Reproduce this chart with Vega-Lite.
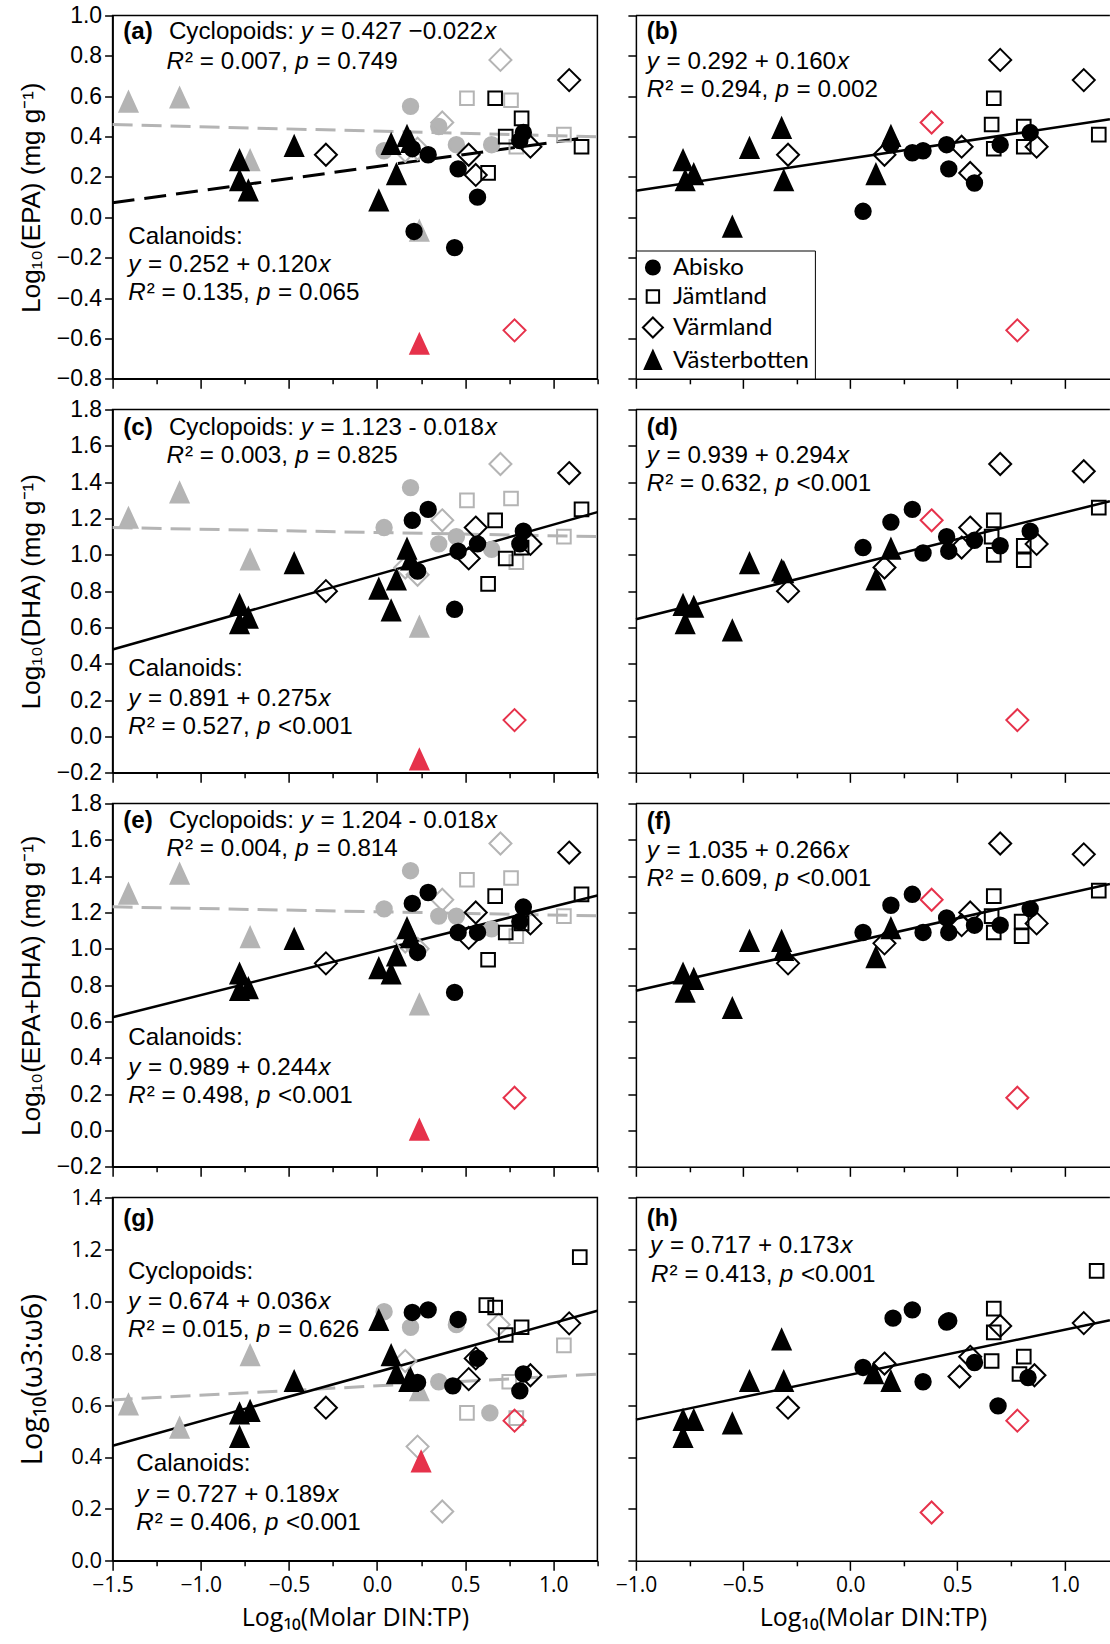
{
"$schema": "https://vega.github.io/schema/vega-lite/v6.json",
"background": "white",
"padding": {"left": 16.6, "top": 3.5, "right": 0, "bottom": 0},
"columns": 2,
"spacing": {"row": 30, "column": 38.3},
"bounds": "flush",
"resolve": {"scale": {"shape": "independent", "fill": "independent", "stroke": "independent"}},
"config": {
  "view": {"stroke": "black", "strokeWidth": 1.5},
  "axis": {"domainColor": "black", "domainWidth": 1.5, "tickColor": "black", "tickWidth": 1.5, "grid": false, "labelColor": "black", "titleColor": "black", "titleFontWeight": "normal", "labelOverlap": false, "labelFlush": false}
},
"concat": [
{
 "width": 484.8, "height": 363.3,
 "encoding": {
  "x": {"field": "x", "type": "quantitative", "scale": {"domain": [-1.5, 1.25], "nice": false, "zero": false},
        "axis": {"values": [-1.5,-1.25,-1,-0.75,-0.5,-0.25,0,0.25,0.5,0.75,1,1.25], "labels": false, "title": null, "tickSize": {"condition": {"test": "abs(datum.value*2-round(datum.value*2))>0.01", "value": 5}, "value": 9.5}}},
  "y": {"field": "y", "type": "quantitative", "scale": {"domain": [-0.8, 1.0], "nice": false, "zero": false},
        "axis": {"values": [-0.8,-0.6,-0.4,-0.2,0,0.2,0.4,0.6,0.8,1.0], "format": ".1f", "labelFont": "Liberation Sans", "labelFontSize": 23, "labelPadding": 3, "tickSize": 8, "title": "Log₁₀(EPA) (mg g⁻¹)", "titleFont": "Liberation Sans", "titleFontSize": 26, "titlePadding": 12}}
 },
 "layer": [
  {"data": {"values": [{"x": -1.5, "y": 0.46}, {"x": 1.25, "y": 0.3995}]}, "mark": {"type": "line", "color": "#b4b4b4", "strokeWidth": 3, "strokeDash": [20, 9]}, "encoding": {}},
  {"data": {"values": [{"x": -1.5, "y": 0.072}, {"x": 1.16, "y": 0.3912}]}, "mark": {"type": "line", "color": "black", "strokeWidth": 3, "strokeDash": [22, 10]}, "encoding": {}},
  {"data": {"values": [
    {"x": -1.41, "y": 0.57, "cat": "Västerbotten (cyclopoids)"},
    {"x": -1.12, "y": 0.59, "cat": "Västerbotten (cyclopoids)"},
    {"x": -0.72, "y": 0.28, "cat": "Västerbotten (cyclopoids)"},
    {"x": 0.24, "y": -0.07, "cat": "Västerbotten (cyclopoids)"},
    {"x": 0.04, "y": 0.33, "cat": "Abisko (cyclopoids)"},
    {"x": 0.19, "y": 0.55, "cat": "Abisko (cyclopoids)"},
    {"x": 0.35, "y": 0.45, "cat": "Abisko (cyclopoids)"},
    {"x": 0.45, "y": 0.36, "cat": "Abisko (cyclopoids)"},
    {"x": 0.65, "y": 0.36, "cat": "Abisko (cyclopoids)"},
    {"x": 0.16, "y": 0.33, "cat": "Värmland (cyclopoids)"},
    {"x": 0.23, "y": 0.34, "cat": "Värmland (cyclopoids)"},
    {"x": 0.37, "y": 0.47, "cat": "Värmland (cyclopoids)"},
    {"x": 0.70, "y": 0.78, "cat": "Värmland (cyclopoids)"},
    {"x": 0.51, "y": 0.59, "cat": "Jämtland (cyclopoids)"},
    {"x": 0.76, "y": 0.58, "cat": "Jämtland (cyclopoids)"},
    {"x": 0.79, "y": 0.35, "cat": "Jämtland (cyclopoids)"},
    {"x": 1.06, "y": 0.41, "cat": "Jämtland (cyclopoids)"},
    {"x": -0.78, "y": 0.28, "cat": "Västerbotten"},
    {"x": -0.78, "y": 0.18, "cat": "Västerbotten"},
    {"x": -0.73, "y": 0.13, "cat": "Västerbotten"},
    {"x": -0.47, "y": 0.35, "cat": "Västerbotten"},
    {"x": 0.01, "y": 0.08, "cat": "Västerbotten"},
    {"x": 0.08, "y": 0.36, "cat": "Västerbotten"},
    {"x": 0.11, "y": 0.21, "cat": "Västerbotten"},
    {"x": 0.17, "y": 0.40, "cat": "Västerbotten"},
    {"x": 0.19, "y": 0.37, "cat": "Västerbotten"},
    {"x": 0.20, "y": 0.34, "cat": "Abisko"},
    {"x": 0.21, "y": -0.07, "cat": "Abisko"},
    {"x": 0.29, "y": 0.31, "cat": "Abisko"},
    {"x": 0.44, "y": -0.15, "cat": "Abisko"},
    {"x": 0.46, "y": 0.24, "cat": "Abisko"},
    {"x": 0.57, "y": 0.10, "cat": "Abisko"},
    {"x": 0.81, "y": 0.38, "cat": "Abisko"},
    {"x": 0.83, "y": 0.42, "cat": "Abisko"},
    {"x": -0.29, "y": 0.31, "cat": "Värmland"},
    {"x": 0.52, "y": 0.31, "cat": "Värmland"},
    {"x": 0.56, "y": 0.21, "cat": "Värmland"},
    {"x": 0.87, "y": 0.35, "cat": "Värmland"},
    {"x": 1.09, "y": 0.68, "cat": "Värmland"},
    {"x": 0.63, "y": 0.22, "cat": "Jämtland"},
    {"x": 0.67, "y": 0.59, "cat": "Jämtland"},
    {"x": 0.73, "y": 0.40, "cat": "Jämtland"},
    {"x": 0.82, "y": 0.49, "cat": "Jämtland"},
    {"x": 1.16, "y": 0.35, "cat": "Jämtland"},
    {"x": 0.24, "y": -0.63, "cat": "Västerbotten (excluded)"},
    {"x": 0.78, "y": -0.56, "cat": "Värmland (excluded)"}
   ]},
   "mark": {"type": "point", "filled": true, "opacity": 1, "size": 484, "strokeWidth": 2},
   "encoding": {
    "shape": {"field": "cat", "type": "nominal", "legend": null, "scale": {"domain": ["Abisko","Jämtland","Värmland","Västerbotten","Abisko (cyclopoids)","Jämtland (cyclopoids)","Värmland (cyclopoids)","Västerbotten (cyclopoids)","Värmland (excluded)","Västerbotten (excluded)"], "range": ["M0.7,0A0.7,0.7,0,1,1,-0.7,0A0.7,0.7,0,1,1,0.7,0Z","M-0.62,-0.62H0.62V0.62H-0.62Z","M0,-1L1,0L0,1L-1,0Z","M0,-0.95L0.82,0.85L-0.82,0.85Z","M0.7,0A0.7,0.7,0,1,1,-0.7,0A0.7,0.7,0,1,1,0.7,0Z","M-0.62,-0.62H0.62V0.62H-0.62Z","M0,-1L1,0L0,1L-1,0Z","M0,-0.95L0.82,0.85L-0.82,0.85Z","M0,-1L1,0L0,1L-1,0Z","M0,-0.95L0.82,0.85L-0.82,0.85Z"]}},
    "fill": {"field": "cat", "type": "nominal", "legend": null, "scale": {"domain": ["Abisko","Jämtland","Värmland","Västerbotten","Abisko (cyclopoids)","Jämtland (cyclopoids)","Värmland (cyclopoids)","Västerbotten (cyclopoids)","Värmland (excluded)","Västerbotten (excluded)"], "range": ["black","transparent","transparent","black","#b4b4b4","transparent","transparent","#b4b4b4","transparent","#e6324b"]}},
    "stroke": {"field": "cat", "type": "nominal", "legend": null, "scale": {"domain": ["Abisko","Jämtland","Värmland","Västerbotten","Abisko (cyclopoids)","Jämtland (cyclopoids)","Värmland (cyclopoids)","Västerbotten (cyclopoids)","Värmland (excluded)","Västerbotten (excluded)"], "range": ["black","black","black","black","#b4b4b4","#b4b4b4","#b4b4b4","#b4b4b4","#e6324b","#e6324b"]}}
   }},
  {"data": {"values": [
    {"x": -1.1807, "y": 0.885, "t": "Cyclopoids:"}, {"x": -0.3208, "y": 0.885, "t": "= 0.427 −0.022"},
    {"x": -1.0888, "y": 0.736, "t": "² = 0.007,"}, {"x": -0.3440, "y": 0.736, "t": "= 0.749"},
    {"x": -1.4109, "y": -0.131, "t": "Calanoids:"}, {"x": -1.2986, "y": -0.273, "t": "= 0.252 + 0.120"},
    {"x": -1.3060, "y": -0.412, "t": "² = 0.135,"}, {"x": -0.5613, "y": -0.412, "t": "= 0.065"}]},
   "mark": {"type": "text", "align": "left", "baseline": "alphabetic", "font": "Liberation Sans", "fontSize": 24.2, "color": "black"}, "encoding": {"text": {"field": "t"}}},
  {"data": {"values": [
    {"x": -0.4331, "y": 0.885, "t": "y"}, {"x": 0.6083, "y": 0.885, "t": "x"},
    {"x": -1.1937, "y": 0.736, "t": "R"}, {"x": -0.4643, "y": 0.736, "t": "p"},
    {"x": -1.4109, "y": -0.273, "t": "y"}, {"x": -0.3315, "y": -0.273, "t": "x"},
    {"x": -1.4109, "y": -0.412, "t": "R"}, {"x": -0.6815, "y": -0.412, "t": "p"}]},
   "mark": {"type": "text", "align": "left", "baseline": "alphabetic", "font": "Liberation Sans", "fontSize": 24.2, "fontStyle": "italic", "color": "black"}, "encoding": {"text": {"field": "t"}}},
  {"data": {"values": [{"x": -1.4393, "y": 0.885, "t": "(a)"}]},
   "mark": {"type": "text", "align": "left", "baseline": "alphabetic", "font": "Liberation Sans", "fontSize": 24.2, "fontWeight": "bold", "color": "black"}, "encoding": {"text": {"field": "t"}}}
 ]
},
{
 "width": 474, "height": 363.3,
 "view": {"stroke": null},
 "encoding": {
  "x": {"field": "x", "type": "quantitative", "scale": {"domain": [-1, 1.2119], "nice": false, "zero": false},
        "axis": {"values": [-1,-0.75,-0.5,-0.25,0,0.25,0.5,0.75,1], "labels": false, "title": null, "tickSize": {"condition": {"test": "abs(datum.value*2-round(datum.value*2))>0.01", "value": 5}, "value": 9.5}}},
  "y": {"field": "y", "type": "quantitative", "scale": {"domain": [-0.8, 1.0], "nice": false, "zero": false},
        "axis": {"values": [-0.8,-0.6,-0.4,-0.2,0,0.2,0.4,0.6,0.8,1.0], "labels": false, "tickSize": 8, "title": null}}
 },
 "layer": [
  {"data": {"values": [{"x": -1, "y": 1.0}, {"x": 1.2119, "y": 1.0}]}, "mark": {"type": "line", "color": "black", "strokeWidth": 1.5}, "encoding": {}},
  {"data": {"values": [{"x": -1, "y": 0.132}, {"x": 1.2119, "y": 0.4859}]}, "mark": {"type": "line", "color": "black", "strokeWidth": 2.5}, "encoding": {}},
  {"data": {"values": [
    {"x": -0.78, "y": 0.28, "cat": "Västerbotten"},
    {"x": -0.77, "y": 0.18, "cat": "Västerbotten"},
    {"x": -0.73, "y": 0.21, "cat": "Västerbotten"},
    {"x": -0.55, "y": -0.05, "cat": "Västerbotten"},
    {"x": -0.47, "y": 0.34, "cat": "Västerbotten"},
    {"x": -0.32, "y": 0.44, "cat": "Västerbotten"},
    {"x": -0.31, "y": 0.18, "cat": "Västerbotten"},
    {"x": 0.12, "y": 0.21, "cat": "Västerbotten"},
    {"x": 0.19, "y": 0.40, "cat": "Västerbotten"},
    {"x": 0.06, "y": 0.03, "cat": "Abisko"},
    {"x": 0.19, "y": 0.36, "cat": "Abisko"},
    {"x": 0.29, "y": 0.32, "cat": "Abisko"},
    {"x": 0.34, "y": 0.33, "cat": "Abisko"},
    {"x": 0.45, "y": 0.36, "cat": "Abisko"},
    {"x": 0.46, "y": 0.24, "cat": "Abisko"},
    {"x": 0.58, "y": 0.17, "cat": "Abisko"},
    {"x": 0.70, "y": 0.36, "cat": "Abisko"},
    {"x": 0.84, "y": 0.42, "cat": "Abisko"},
    {"x": -0.29, "y": 0.31, "cat": "Värmland"},
    {"x": 0.16, "y": 0.31, "cat": "Värmland"},
    {"x": 0.52, "y": 0.35, "cat": "Värmland"},
    {"x": 0.56, "y": 0.22, "cat": "Värmland"},
    {"x": 0.70, "y": 0.78, "cat": "Värmland"},
    {"x": 0.87, "y": 0.35, "cat": "Värmland"},
    {"x": 1.09, "y": 0.68, "cat": "Värmland"},
    {"x": 0.67, "y": 0.59, "cat": "Jämtland"},
    {"x": 0.66, "y": 0.46, "cat": "Jämtland"},
    {"x": 0.67, "y": 0.34, "cat": "Jämtland"},
    {"x": 0.81, "y": 0.45, "cat": "Jämtland"},
    {"x": 0.81, "y": 0.35, "cat": "Jämtland"},
    {"x": 1.16, "y": 0.41, "cat": "Jämtland"},
    {"x": 0.38, "y": 0.47, "cat": "Värmland (excluded)"},
    {"x": 0.78, "y": -0.56, "cat": "Värmland (excluded)"}
   ]},
   "mark": {"type": "point", "filled": true, "opacity": 1, "size": 484, "strokeWidth": 2},
   "encoding": {
    "shape": {"field": "cat", "type": "nominal", "legend": {"orient": "bottom-left", "offset": 0, "title": null, "values": ["Abisko","Jämtland","Värmland","Västerbotten"], "padding": 5, "strokeColor": "black", "fillColor": "white", "labelFont": "Lato", "labelFontSize": 24, "labelColor": "black", "symbolSize": 400, "symbolStrokeWidth": 2, "rowPadding": 5, "labelOffset": 8}, "scale": {"domain": ["Abisko","Jämtland","Värmland","Västerbotten","Abisko (cyclopoids)","Jämtland (cyclopoids)","Värmland (cyclopoids)","Västerbotten (cyclopoids)","Värmland (excluded)","Västerbotten (excluded)"], "range": ["M0.7,0A0.7,0.7,0,1,1,-0.7,0A0.7,0.7,0,1,1,0.7,0Z","M-0.62,-0.62H0.62V0.62H-0.62Z","M0,-1L1,0L0,1L-1,0Z","M0,-0.95L0.82,0.85L-0.82,0.85Z","M0.7,0A0.7,0.7,0,1,1,-0.7,0A0.7,0.7,0,1,1,0.7,0Z","M-0.62,-0.62H0.62V0.62H-0.62Z","M0,-1L1,0L0,1L-1,0Z","M0,-0.95L0.82,0.85L-0.82,0.85Z","M0,-1L1,0L0,1L-1,0Z","M0,-0.95L0.82,0.85L-0.82,0.85Z"]}},
    "fill": {"field": "cat", "type": "nominal", "legend": {"orient": "bottom-left", "offset": 0, "title": null, "values": ["Abisko","Jämtland","Värmland","Västerbotten"], "padding": 5, "strokeColor": "black", "fillColor": "white", "labelFont": "Lato", "labelFontSize": 24, "labelColor": "black", "symbolSize": 400, "symbolStrokeWidth": 2, "rowPadding": 5, "labelOffset": 8}, "scale": {"domain": ["Abisko","Jämtland","Värmland","Västerbotten","Abisko (cyclopoids)","Jämtland (cyclopoids)","Värmland (cyclopoids)","Västerbotten (cyclopoids)","Värmland (excluded)","Västerbotten (excluded)"], "range": ["black","transparent","transparent","black","#b4b4b4","transparent","transparent","#b4b4b4","transparent","#e6324b"]}},
    "stroke": {"field": "cat", "type": "nominal", "legend": {"orient": "bottom-left", "offset": 0, "title": null, "values": ["Abisko","Jämtland","Värmland","Västerbotten"], "padding": 5, "strokeColor": "black", "fillColor": "white", "labelFont": "Lato", "labelFontSize": 24, "labelColor": "black", "symbolSize": 400, "symbolStrokeWidth": 2, "rowPadding": 5, "labelOffset": 8}, "scale": {"domain": ["Abisko","Jämtland","Värmland","Västerbotten","Abisko (cyclopoids)","Jämtland (cyclopoids)","Värmland (cyclopoids)","Västerbotten (cyclopoids)","Värmland (excluded)","Västerbotten (excluded)"], "range": ["black","black","black","black","#b4b4b4","#b4b4b4","#b4b4b4","#b4b4b4","#e6324b","#e6324b"]}}
   }},
  {"data": {"values": [
    {"x": -0.8567, "y": 0.736, "t": "= 0.292 + 0.160"}, {"x": -0.8628, "y": 0.595, "t": "² = 0.294,"}, {"x": -0.2501, "y": 0.595, "t": "= 0.002"}]},
   "mark": {"type": "text", "align": "left", "baseline": "alphabetic", "font": "Liberation Sans", "fontSize": 24.2, "color": "black"}, "encoding": {"text": {"field": "t"}}},
  {"data": {"values": [
    {"x": -0.9491, "y": 0.736, "t": "y"}, {"x": -0.0611, "y": 0.736, "t": "x"},
    {"x": -0.9491, "y": 0.595, "t": "R"}, {"x": -0.3490, "y": 0.595, "t": "p"}]},
   "mark": {"type": "text", "align": "left", "baseline": "alphabetic", "font": "Liberation Sans", "fontSize": 24.2, "fontStyle": "italic", "color": "black"}, "encoding": {"text": {"field": "t"}}},
  {"data": {"values": [{"x": -0.9491, "y": 0.885, "t": "(b)"}]},
   "mark": {"type": "text", "align": "left", "baseline": "alphabetic", "font": "Liberation Sans", "fontSize": 24.2, "fontWeight": "bold", "color": "black"}, "encoding": {"text": {"field": "t"}}}
 ]
},
{
 "width": 484.8, "height": 363.3,
 "encoding": {
  "x": {"field": "x", "type": "quantitative", "scale": {"domain": [-1.5, 1.25], "nice": false, "zero": false},
        "axis": {"values": [-1.5,-1.25,-1,-0.75,-0.5,-0.25,0,0.25,0.5,0.75,1,1.25], "labels": false, "title": null, "tickSize": {"condition": {"test": "abs(datum.value*2-round(datum.value*2))>0.01", "value": 5}, "value": 9.5}}},
  "y": {"field": "y", "type": "quantitative", "scale": {"domain": [-0.2, 1.8], "nice": false, "zero": false},
        "axis": {"values": [-0.2,0,0.2,0.4,0.6,0.8,1.0,1.2,1.4,1.6,1.8], "format": ".1f", "labelFont": "Liberation Sans", "labelFontSize": 23, "labelPadding": 3, "tickSize": 8, "title": "Log₁₀(DHA) (mg g⁻¹)", "titleFont": "Liberation Sans", "titleFontSize": 26, "titlePadding": 12}}
 },
 "layer": [
  {"data": {"values": [{"x": -1.5, "y": 1.15}, {"x": 1.25, "y": 1.1005}]}, "mark": {"type": "line", "color": "#b4b4b4", "strokeWidth": 3, "strokeDash": [20, 9]}, "encoding": {}},
  {"data": {"values": [{"x": -1.5, "y": 0.4785}, {"x": 1.25, "y": 1.2348}]}, "mark": {"type": "line", "color": "black", "strokeWidth": 2.5}, "encoding": {}},
  {"data": {"values": [
    {"x": -1.41, "y": 1.20, "cat": "Västerbotten (cyclopoids)"},
    {"x": -1.12, "y": 1.34, "cat": "Västerbotten (cyclopoids)"},
    {"x": -0.72, "y": 0.97, "cat": "Västerbotten (cyclopoids)"},
    {"x": 0.24, "y": 0.60, "cat": "Västerbotten (cyclopoids)"},
    {"x": 0.04, "y": 1.15, "cat": "Abisko (cyclopoids)"},
    {"x": 0.19, "y": 1.37, "cat": "Abisko (cyclopoids)"},
    {"x": 0.35, "y": 1.06, "cat": "Abisko (cyclopoids)"},
    {"x": 0.45, "y": 1.10, "cat": "Abisko (cyclopoids)"},
    {"x": 0.65, "y": 1.03, "cat": "Abisko (cyclopoids)"},
    {"x": 0.16, "y": 0.93, "cat": "Värmland (cyclopoids)"},
    {"x": 0.23, "y": 0.89, "cat": "Värmland (cyclopoids)"},
    {"x": 0.37, "y": 1.19, "cat": "Värmland (cyclopoids)"},
    {"x": 0.70, "y": 1.50, "cat": "Värmland (cyclopoids)"},
    {"x": 0.51, "y": 1.30, "cat": "Jämtland (cyclopoids)"},
    {"x": 0.76, "y": 1.31, "cat": "Jämtland (cyclopoids)"},
    {"x": 0.79, "y": 0.96, "cat": "Jämtland (cyclopoids)"},
    {"x": 1.06, "y": 1.10, "cat": "Jämtland (cyclopoids)"},
    {"x": -0.78, "y": 0.72, "cat": "Västerbotten"},
    {"x": -0.78, "y": 0.62, "cat": "Västerbotten"},
    {"x": -0.73, "y": 0.65, "cat": "Västerbotten"},
    {"x": -0.47, "y": 0.95, "cat": "Västerbotten"},
    {"x": 0.01, "y": 0.81, "cat": "Västerbotten"},
    {"x": 0.08, "y": 0.69, "cat": "Västerbotten"},
    {"x": 0.11, "y": 0.86, "cat": "Västerbotten"},
    {"x": 0.17, "y": 1.03, "cat": "Västerbotten"},
    {"x": 0.19, "y": 0.97, "cat": "Västerbotten"},
    {"x": 0.20, "y": 1.19, "cat": "Abisko"},
    {"x": 0.23, "y": 0.91, "cat": "Abisko"},
    {"x": 0.29, "y": 1.25, "cat": "Abisko"},
    {"x": 0.44, "y": 0.70, "cat": "Abisko"},
    {"x": 0.46, "y": 1.02, "cat": "Abisko"},
    {"x": 0.57, "y": 1.06, "cat": "Abisko"},
    {"x": 0.81, "y": 1.06, "cat": "Abisko"},
    {"x": 0.83, "y": 1.13, "cat": "Abisko"},
    {"x": -0.29, "y": 0.80, "cat": "Värmland"},
    {"x": 0.52, "y": 0.98, "cat": "Värmland"},
    {"x": 0.56, "y": 1.15, "cat": "Värmland"},
    {"x": 0.87, "y": 1.06, "cat": "Värmland"},
    {"x": 1.09, "y": 1.45, "cat": "Värmland"},
    {"x": 0.63, "y": 0.84, "cat": "Jämtland"},
    {"x": 0.67, "y": 1.19, "cat": "Jämtland"},
    {"x": 0.73, "y": 0.98, "cat": "Jämtland"},
    {"x": 0.82, "y": 1.04, "cat": "Jämtland"},
    {"x": 1.16, "y": 1.25, "cat": "Jämtland"},
    {"x": 0.24, "y": -0.13, "cat": "Västerbotten (excluded)"},
    {"x": 0.78, "y": 0.09, "cat": "Värmland (excluded)"}
   ]},
   "mark": {"type": "point", "filled": true, "opacity": 1, "size": 484, "strokeWidth": 2},
   "encoding": {
    "shape": {"field": "cat", "type": "nominal", "legend": null, "scale": {"domain": ["Abisko","Jämtland","Värmland","Västerbotten","Abisko (cyclopoids)","Jämtland (cyclopoids)","Värmland (cyclopoids)","Västerbotten (cyclopoids)","Värmland (excluded)","Västerbotten (excluded)"], "range": ["M0.7,0A0.7,0.7,0,1,1,-0.7,0A0.7,0.7,0,1,1,0.7,0Z","M-0.62,-0.62H0.62V0.62H-0.62Z","M0,-1L1,0L0,1L-1,0Z","M0,-0.95L0.82,0.85L-0.82,0.85Z","M0.7,0A0.7,0.7,0,1,1,-0.7,0A0.7,0.7,0,1,1,0.7,0Z","M-0.62,-0.62H0.62V0.62H-0.62Z","M0,-1L1,0L0,1L-1,0Z","M0,-0.95L0.82,0.85L-0.82,0.85Z","M0,-1L1,0L0,1L-1,0Z","M0,-0.95L0.82,0.85L-0.82,0.85Z"]}},
    "fill": {"field": "cat", "type": "nominal", "legend": null, "scale": {"domain": ["Abisko","Jämtland","Värmland","Västerbotten","Abisko (cyclopoids)","Jämtland (cyclopoids)","Värmland (cyclopoids)","Västerbotten (cyclopoids)","Värmland (excluded)","Västerbotten (excluded)"], "range": ["black","transparent","transparent","black","#b4b4b4","transparent","transparent","#b4b4b4","transparent","#e6324b"]}},
    "stroke": {"field": "cat", "type": "nominal", "legend": null, "scale": {"domain": ["Abisko","Jämtland","Värmland","Västerbotten","Abisko (cyclopoids)","Jämtland (cyclopoids)","Värmland (cyclopoids)","Västerbotten (cyclopoids)","Värmland (excluded)","Västerbotten (excluded)"], "range": ["black","black","black","black","#b4b4b4","#b4b4b4","#b4b4b4","#b4b4b4","#e6324b","#e6324b"]}}
   }},
  {"data": {"values": [
    {"x": -1.1807, "y": 1.662, "t": "Cyclopoids:"}, {"x": -0.3208, "y": 1.662, "t": "= 1.123 - 0.018"},
    {"x": -1.0888, "y": 1.506, "t": "² = 0.003,"}, {"x": -0.3440, "y": 1.506, "t": "= 0.825"},
    {"x": -1.4109, "y": 0.332, "t": "Calanoids:"}, {"x": -1.2986, "y": 0.167, "t": "= 0.891 + 0.275"},
    {"x": -1.3060, "y": 0.011, "t": "² = 0.527,"}, {"x": -0.5613, "y": 0.011, "t": "<0.001"}]},
   "mark": {"type": "text", "align": "left", "baseline": "alphabetic", "font": "Liberation Sans", "fontSize": 24.2, "color": "black"}, "encoding": {"text": {"field": "t"}}},
  {"data": {"values": [
    {"x": -0.4331, "y": 1.662, "t": "y"}, {"x": 0.6123, "y": 1.662, "t": "x"},
    {"x": -1.1937, "y": 1.506, "t": "R"}, {"x": -0.4643, "y": 1.506, "t": "p"},
    {"x": -1.4109, "y": 0.167, "t": "y"}, {"x": -0.3315, "y": 0.167, "t": "x"},
    {"x": -1.4109, "y": 0.011, "t": "R"}, {"x": -0.6815, "y": 0.011, "t": "p"}]},
   "mark": {"type": "text", "align": "left", "baseline": "alphabetic", "font": "Liberation Sans", "fontSize": 24.2, "fontStyle": "italic", "color": "black"}, "encoding": {"text": {"field": "t"}}},
  {"data": {"values": [{"x": -1.4393, "y": 1.662, "t": "(c)"}]},
   "mark": {"type": "text", "align": "left", "baseline": "alphabetic", "font": "Liberation Sans", "fontSize": 24.2, "fontWeight": "bold", "color": "black"}, "encoding": {"text": {"field": "t"}}}
 ]
},
{
 "width": 474, "height": 363.3,
 "view": {"stroke": null},
 "encoding": {
  "x": {"field": "x", "type": "quantitative", "scale": {"domain": [-1, 1.2119], "nice": false, "zero": false},
        "axis": {"values": [-1,-0.75,-0.5,-0.25,0,0.25,0.5,0.75,1], "labels": false, "title": null, "tickSize": {"condition": {"test": "abs(datum.value*2-round(datum.value*2))>0.01", "value": 5}, "value": 9.5}}},
  "y": {"field": "y", "type": "quantitative", "scale": {"domain": [-0.2, 1.8], "nice": false, "zero": false},
        "axis": {"values": [-0.2,0,0.2,0.4,0.6,0.8,1.0,1.2,1.4,1.6,1.8], "labels": false, "tickSize": 8, "title": null}}
 },
 "layer": [
  {"data": {"values": [{"x": -1, "y": 1.8}, {"x": 1.2119, "y": 1.8}]}, "mark": {"type": "line", "color": "black", "strokeWidth": 1.5}, "encoding": {}},
  {"data": {"values": [{"x": -1, "y": 0.645}, {"x": 1.2119, "y": 1.2953}]}, "mark": {"type": "line", "color": "black", "strokeWidth": 2.5}, "encoding": {}},
  {"data": {"values": [
    {"x": -0.78, "y": 0.72, "cat": "Västerbotten"},
    {"x": -0.77, "y": 0.62, "cat": "Västerbotten"},
    {"x": -0.73, "y": 0.71, "cat": "Västerbotten"},
    {"x": -0.55, "y": 0.58, "cat": "Västerbotten"},
    {"x": -0.47, "y": 0.95, "cat": "Västerbotten"},
    {"x": -0.32, "y": 0.91, "cat": "Västerbotten"},
    {"x": -0.31, "y": 0.90, "cat": "Västerbotten"},
    {"x": 0.12, "y": 0.86, "cat": "Västerbotten"},
    {"x": 0.19, "y": 1.03, "cat": "Västerbotten"},
    {"x": 0.06, "y": 1.04, "cat": "Abisko"},
    {"x": 0.19, "y": 1.18, "cat": "Abisko"},
    {"x": 0.29, "y": 1.25, "cat": "Abisko"},
    {"x": 0.34, "y": 1.01, "cat": "Abisko"},
    {"x": 0.45, "y": 1.10, "cat": "Abisko"},
    {"x": 0.46, "y": 1.02, "cat": "Abisko"},
    {"x": 0.58, "y": 1.08, "cat": "Abisko"},
    {"x": 0.70, "y": 1.05, "cat": "Abisko"},
    {"x": 0.84, "y": 1.13, "cat": "Abisko"},
    {"x": -0.29, "y": 0.80, "cat": "Värmland"},
    {"x": 0.16, "y": 0.93, "cat": "Värmland"},
    {"x": 0.52, "y": 1.04, "cat": "Värmland"},
    {"x": 0.56, "y": 1.15, "cat": "Värmland"},
    {"x": 0.70, "y": 1.50, "cat": "Värmland"},
    {"x": 0.87, "y": 1.06, "cat": "Värmland"},
    {"x": 1.09, "y": 1.46, "cat": "Värmland"},
    {"x": 0.67, "y": 1.19, "cat": "Jämtland"},
    {"x": 0.66, "y": 1.10, "cat": "Jämtland"},
    {"x": 0.67, "y": 1.00, "cat": "Jämtland"},
    {"x": 0.81, "y": 1.05, "cat": "Jämtland"},
    {"x": 0.81, "y": 0.97, "cat": "Jämtland"},
    {"x": 1.16, "y": 1.26, "cat": "Jämtland"},
    {"x": 0.38, "y": 1.19, "cat": "Värmland (excluded)"},
    {"x": 0.78, "y": 0.09, "cat": "Värmland (excluded)"}
   ]},
   "mark": {"type": "point", "filled": true, "opacity": 1, "size": 484, "strokeWidth": 2},
   "encoding": {
    "shape": {"field": "cat", "type": "nominal", "legend": null, "scale": {"domain": ["Abisko","Jämtland","Värmland","Västerbotten","Abisko (cyclopoids)","Jämtland (cyclopoids)","Värmland (cyclopoids)","Västerbotten (cyclopoids)","Värmland (excluded)","Västerbotten (excluded)"], "range": ["M0.7,0A0.7,0.7,0,1,1,-0.7,0A0.7,0.7,0,1,1,0.7,0Z","M-0.62,-0.62H0.62V0.62H-0.62Z","M0,-1L1,0L0,1L-1,0Z","M0,-0.95L0.82,0.85L-0.82,0.85Z","M0.7,0A0.7,0.7,0,1,1,-0.7,0A0.7,0.7,0,1,1,0.7,0Z","M-0.62,-0.62H0.62V0.62H-0.62Z","M0,-1L1,0L0,1L-1,0Z","M0,-0.95L0.82,0.85L-0.82,0.85Z","M0,-1L1,0L0,1L-1,0Z","M0,-0.95L0.82,0.85L-0.82,0.85Z"]}},
    "fill": {"field": "cat", "type": "nominal", "legend": null, "scale": {"domain": ["Abisko","Jämtland","Värmland","Västerbotten","Abisko (cyclopoids)","Jämtland (cyclopoids)","Värmland (cyclopoids)","Västerbotten (cyclopoids)","Värmland (excluded)","Västerbotten (excluded)"], "range": ["black","transparent","transparent","black","#b4b4b4","transparent","transparent","#b4b4b4","transparent","#e6324b"]}},
    "stroke": {"field": "cat", "type": "nominal", "legend": null, "scale": {"domain": ["Abisko","Jämtland","Värmland","Västerbotten","Abisko (cyclopoids)","Jämtland (cyclopoids)","Värmland (cyclopoids)","Västerbotten (cyclopoids)","Värmland (excluded)","Västerbotten (excluded)"], "range": ["black","black","black","black","#b4b4b4","#b4b4b4","#b4b4b4","#b4b4b4","#e6324b","#e6324b"]}}
   }},
  {"data": {"values": [
    {"x": -0.8567, "y": 1.506, "t": "= 0.939 + 0.294"}, {"x": -0.8628, "y": 1.350, "t": "² = 0.632,"}, {"x": -0.2501, "y": 1.350, "t": "<0.001"}]},
   "mark": {"type": "text", "align": "left", "baseline": "alphabetic", "font": "Liberation Sans", "fontSize": 24.2, "color": "black"}, "encoding": {"text": {"field": "t"}}},
  {"data": {"values": [
    {"x": -0.9491, "y": 1.506, "t": "y"}, {"x": -0.0611, "y": 1.506, "t": "x"},
    {"x": -0.9491, "y": 1.350, "t": "R"}, {"x": -0.3490, "y": 1.350, "t": "p"}]},
   "mark": {"type": "text", "align": "left", "baseline": "alphabetic", "font": "Liberation Sans", "fontSize": 24.2, "fontStyle": "italic", "color": "black"}, "encoding": {"text": {"field": "t"}}},
  {"data": {"values": [{"x": -0.9491, "y": 1.662, "t": "(d)"}]},
   "mark": {"type": "text", "align": "left", "baseline": "alphabetic", "font": "Liberation Sans", "fontSize": 24.2, "fontWeight": "bold", "color": "black"}, "encoding": {"text": {"field": "t"}}}
 ]
},
{
 "width": 484.8, "height": 363.3,
 "encoding": {
  "x": {"field": "x", "type": "quantitative", "scale": {"domain": [-1.5, 1.25], "nice": false, "zero": false},
        "axis": {"values": [-1.5,-1.25,-1,-0.75,-0.5,-0.25,0,0.25,0.5,0.75,1,1.25], "labels": false, "title": null, "tickSize": {"condition": {"test": "abs(datum.value*2-round(datum.value*2))>0.01", "value": 5}, "value": 9.5}}},
  "y": {"field": "y", "type": "quantitative", "scale": {"domain": [-0.2, 1.8], "nice": false, "zero": false},
        "axis": {"values": [-0.2,0,0.2,0.4,0.6,0.8,1.0,1.2,1.4,1.6,1.8], "format": ".1f", "labelFont": "Liberation Sans", "labelFontSize": 23, "labelPadding": 3, "tickSize": 8, "title": "Log₁₀(EPA+DHA) (mg g⁻¹)", "titleFont": "Liberation Sans", "titleFontSize": 26, "titlePadding": 12}}
 },
 "layer": [
  {"data": {"values": [{"x": -1.5, "y": 1.231}, {"x": 1.25, "y": 1.1815}]}, "mark": {"type": "line", "color": "#b4b4b4", "strokeWidth": 3, "strokeDash": [20, 9]}, "encoding": {}},
  {"data": {"values": [{"x": -1.5, "y": 0.623}, {"x": 1.25, "y": 1.294}]}, "mark": {"type": "line", "color": "black", "strokeWidth": 2.5}, "encoding": {}},
  {"data": {"values": [
    {"x": -1.41, "y": 1.30, "cat": "Västerbotten (cyclopoids)"},
    {"x": -1.12, "y": 1.41, "cat": "Västerbotten (cyclopoids)"},
    {"x": -0.72, "y": 1.06, "cat": "Västerbotten (cyclopoids)"},
    {"x": 0.24, "y": 0.69, "cat": "Västerbotten (cyclopoids)"},
    {"x": 0.04, "y": 1.22, "cat": "Abisko (cyclopoids)"},
    {"x": 0.19, "y": 1.43, "cat": "Abisko (cyclopoids)"},
    {"x": 0.35, "y": 1.18, "cat": "Abisko (cyclopoids)"},
    {"x": 0.45, "y": 1.18, "cat": "Abisko (cyclopoids)"},
    {"x": 0.65, "y": 1.11, "cat": "Abisko (cyclopoids)"},
    {"x": 0.16, "y": 1.04, "cat": "Värmland (cyclopoids)"},
    {"x": 0.23, "y": 1.00, "cat": "Värmland (cyclopoids)"},
    {"x": 0.37, "y": 1.27, "cat": "Värmland (cyclopoids)"},
    {"x": 0.70, "y": 1.58, "cat": "Värmland (cyclopoids)"},
    {"x": 0.51, "y": 1.38, "cat": "Jämtland (cyclopoids)"},
    {"x": 0.76, "y": 1.39, "cat": "Jämtland (cyclopoids)"},
    {"x": 0.79, "y": 1.07, "cat": "Jämtland (cyclopoids)"},
    {"x": 1.06, "y": 1.18, "cat": "Jämtland (cyclopoids)"},
    {"x": -0.78, "y": 0.86, "cat": "Västerbotten"},
    {"x": -0.78, "y": 0.77, "cat": "Västerbotten"},
    {"x": -0.73, "y": 0.78, "cat": "Västerbotten"},
    {"x": -0.47, "y": 1.05, "cat": "Västerbotten"},
    {"x": 0.01, "y": 0.89, "cat": "Västerbotten"},
    {"x": 0.08, "y": 0.86, "cat": "Västerbotten"},
    {"x": 0.11, "y": 0.96, "cat": "Västerbotten"},
    {"x": 0.17, "y": 1.11, "cat": "Västerbotten"},
    {"x": 0.19, "y": 1.06, "cat": "Västerbotten"},
    {"x": 0.20, "y": 1.25, "cat": "Abisko"},
    {"x": 0.23, "y": 0.98, "cat": "Abisko"},
    {"x": 0.29, "y": 1.31, "cat": "Abisko"},
    {"x": 0.44, "y": 0.76, "cat": "Abisko"},
    {"x": 0.46, "y": 1.09, "cat": "Abisko"},
    {"x": 0.57, "y": 1.09, "cat": "Abisko"},
    {"x": 0.81, "y": 1.15, "cat": "Abisko"},
    {"x": 0.83, "y": 1.23, "cat": "Abisko"},
    {"x": -0.29, "y": 0.92, "cat": "Värmland"},
    {"x": 0.52, "y": 1.06, "cat": "Värmland"},
    {"x": 0.56, "y": 1.20, "cat": "Värmland"},
    {"x": 0.87, "y": 1.14, "cat": "Värmland"},
    {"x": 1.09, "y": 1.53, "cat": "Värmland"},
    {"x": 0.63, "y": 0.94, "cat": "Jämtland"},
    {"x": 0.67, "y": 1.29, "cat": "Jämtland"},
    {"x": 0.73, "y": 1.09, "cat": "Jämtland"},
    {"x": 0.82, "y": 1.14, "cat": "Jämtland"},
    {"x": 1.16, "y": 1.30, "cat": "Jämtland"},
    {"x": 0.24, "y": 0.00, "cat": "Västerbotten (excluded)"},
    {"x": 0.78, "y": 0.18, "cat": "Värmland (excluded)"}
   ]},
   "mark": {"type": "point", "filled": true, "opacity": 1, "size": 484, "strokeWidth": 2},
   "encoding": {
    "shape": {"field": "cat", "type": "nominal", "legend": null, "scale": {"domain": ["Abisko","Jämtland","Värmland","Västerbotten","Abisko (cyclopoids)","Jämtland (cyclopoids)","Värmland (cyclopoids)","Västerbotten (cyclopoids)","Värmland (excluded)","Västerbotten (excluded)"], "range": ["M0.7,0A0.7,0.7,0,1,1,-0.7,0A0.7,0.7,0,1,1,0.7,0Z","M-0.62,-0.62H0.62V0.62H-0.62Z","M0,-1L1,0L0,1L-1,0Z","M0,-0.95L0.82,0.85L-0.82,0.85Z","M0.7,0A0.7,0.7,0,1,1,-0.7,0A0.7,0.7,0,1,1,0.7,0Z","M-0.62,-0.62H0.62V0.62H-0.62Z","M0,-1L1,0L0,1L-1,0Z","M0,-0.95L0.82,0.85L-0.82,0.85Z","M0,-1L1,0L0,1L-1,0Z","M0,-0.95L0.82,0.85L-0.82,0.85Z"]}},
    "fill": {"field": "cat", "type": "nominal", "legend": null, "scale": {"domain": ["Abisko","Jämtland","Värmland","Västerbotten","Abisko (cyclopoids)","Jämtland (cyclopoids)","Värmland (cyclopoids)","Västerbotten (cyclopoids)","Värmland (excluded)","Västerbotten (excluded)"], "range": ["black","transparent","transparent","black","#b4b4b4","transparent","transparent","#b4b4b4","transparent","#e6324b"]}},
    "stroke": {"field": "cat", "type": "nominal", "legend": null, "scale": {"domain": ["Abisko","Jämtland","Värmland","Västerbotten","Abisko (cyclopoids)","Jämtland (cyclopoids)","Värmland (cyclopoids)","Västerbotten (cyclopoids)","Värmland (excluded)","Västerbotten (excluded)"], "range": ["black","black","black","black","#b4b4b4","#b4b4b4","#b4b4b4","#b4b4b4","#e6324b","#e6324b"]}}
   }},
  {"data": {"values": [
    {"x": -1.1807, "y": 1.666, "t": "Cyclopoids:"}, {"x": -0.3208, "y": 1.666, "t": "= 1.204 - 0.018"},
    {"x": -1.0888, "y": 1.510, "t": "² = 0.004,"}, {"x": -0.3440, "y": 1.510, "t": "= 0.814"},
    {"x": -1.4109, "y": 0.473, "t": "Calanoids:"}, {"x": -1.2986, "y": 0.308, "t": "= 0.989 + 0.244"},
    {"x": -1.3060, "y": 0.152, "t": "² = 0.498,"}, {"x": -0.5613, "y": 0.152, "t": "<0.001"}]},
   "mark": {"type": "text", "align": "left", "baseline": "alphabetic", "font": "Liberation Sans", "fontSize": 24.2, "color": "black"}, "encoding": {"text": {"field": "t"}}},
  {"data": {"values": [
    {"x": -0.4331, "y": 1.666, "t": "y"}, {"x": 0.6123, "y": 1.666, "t": "x"},
    {"x": -1.1937, "y": 1.510, "t": "R"}, {"x": -0.4643, "y": 1.510, "t": "p"},
    {"x": -1.4109, "y": 0.308, "t": "y"}, {"x": -0.3315, "y": 0.308, "t": "x"},
    {"x": -1.4109, "y": 0.152, "t": "R"}, {"x": -0.6815, "y": 0.152, "t": "p"}]},
   "mark": {"type": "text", "align": "left", "baseline": "alphabetic", "font": "Liberation Sans", "fontSize": 24.2, "fontStyle": "italic", "color": "black"}, "encoding": {"text": {"field": "t"}}},
  {"data": {"values": [{"x": -1.4393, "y": 1.666, "t": "(e)"}]},
   "mark": {"type": "text", "align": "left", "baseline": "alphabetic", "font": "Liberation Sans", "fontSize": 24.2, "fontWeight": "bold", "color": "black"}, "encoding": {"text": {"field": "t"}}}
 ]
},
{
 "width": 474, "height": 363.3,
 "view": {"stroke": null},
 "encoding": {
  "x": {"field": "x", "type": "quantitative", "scale": {"domain": [-1, 1.2119], "nice": false, "zero": false},
        "axis": {"values": [-1,-0.75,-0.5,-0.25,0,0.25,0.5,0.75,1], "labels": false, "title": null, "tickSize": {"condition": {"test": "abs(datum.value*2-round(datum.value*2))>0.01", "value": 5}, "value": 9.5}}},
  "y": {"field": "y", "type": "quantitative", "scale": {"domain": [-0.2, 1.8], "nice": false, "zero": false},
        "axis": {"values": [-0.2,0,0.2,0.4,0.6,0.8,1.0,1.2,1.4,1.6,1.8], "labels": false, "tickSize": 8, "title": null}}
 },
 "layer": [
  {"data": {"values": [{"x": -1, "y": 1.8}, {"x": 1.2119, "y": 1.8}]}, "mark": {"type": "line", "color": "black", "strokeWidth": 1.5}, "encoding": {}},
  {"data": {"values": [{"x": -1, "y": 0.769}, {"x": 1.2119, "y": 1.3574}]}, "mark": {"type": "line", "color": "black", "strokeWidth": 2.5}, "encoding": {}},
  {"data": {"values": [
    {"x": -0.78, "y": 0.86, "cat": "Västerbotten"},
    {"x": -0.77, "y": 0.76, "cat": "Västerbotten"},
    {"x": -0.73, "y": 0.83, "cat": "Västerbotten"},
    {"x": -0.55, "y": 0.67, "cat": "Västerbotten"},
    {"x": -0.47, "y": 1.04, "cat": "Västerbotten"},
    {"x": -0.32, "y": 1.04, "cat": "Västerbotten"},
    {"x": -0.31, "y": 0.99, "cat": "Västerbotten"},
    {"x": 0.12, "y": 0.95, "cat": "Västerbotten"},
    {"x": 0.19, "y": 1.11, "cat": "Västerbotten"},
    {"x": 0.06, "y": 1.09, "cat": "Abisko"},
    {"x": 0.19, "y": 1.24, "cat": "Abisko"},
    {"x": 0.29, "y": 1.30, "cat": "Abisko"},
    {"x": 0.34, "y": 1.09, "cat": "Abisko"},
    {"x": 0.45, "y": 1.17, "cat": "Abisko"},
    {"x": 0.46, "y": 1.09, "cat": "Abisko"},
    {"x": 0.58, "y": 1.13, "cat": "Abisko"},
    {"x": 0.70, "y": 1.13, "cat": "Abisko"},
    {"x": 0.84, "y": 1.22, "cat": "Abisko"},
    {"x": -0.29, "y": 0.92, "cat": "Värmland"},
    {"x": 0.16, "y": 1.03, "cat": "Värmland"},
    {"x": 0.52, "y": 1.13, "cat": "Värmland"},
    {"x": 0.56, "y": 1.20, "cat": "Värmland"},
    {"x": 0.70, "y": 1.58, "cat": "Värmland"},
    {"x": 0.87, "y": 1.14, "cat": "Värmland"},
    {"x": 1.09, "y": 1.52, "cat": "Värmland"},
    {"x": 0.67, "y": 1.29, "cat": "Jämtland"},
    {"x": 0.66, "y": 1.18, "cat": "Jämtland"},
    {"x": 0.67, "y": 1.09, "cat": "Jämtland"},
    {"x": 0.80, "y": 1.15, "cat": "Jämtland"},
    {"x": 0.80, "y": 1.07, "cat": "Jämtland"},
    {"x": 1.16, "y": 1.32, "cat": "Jämtland"},
    {"x": 0.38, "y": 1.27, "cat": "Värmland (excluded)"},
    {"x": 0.78, "y": 0.18, "cat": "Värmland (excluded)"}
   ]},
   "mark": {"type": "point", "filled": true, "opacity": 1, "size": 484, "strokeWidth": 2},
   "encoding": {
    "shape": {"field": "cat", "type": "nominal", "legend": null, "scale": {"domain": ["Abisko","Jämtland","Värmland","Västerbotten","Abisko (cyclopoids)","Jämtland (cyclopoids)","Värmland (cyclopoids)","Västerbotten (cyclopoids)","Värmland (excluded)","Västerbotten (excluded)"], "range": ["M0.7,0A0.7,0.7,0,1,1,-0.7,0A0.7,0.7,0,1,1,0.7,0Z","M-0.62,-0.62H0.62V0.62H-0.62Z","M0,-1L1,0L0,1L-1,0Z","M0,-0.95L0.82,0.85L-0.82,0.85Z","M0.7,0A0.7,0.7,0,1,1,-0.7,0A0.7,0.7,0,1,1,0.7,0Z","M-0.62,-0.62H0.62V0.62H-0.62Z","M0,-1L1,0L0,1L-1,0Z","M0,-0.95L0.82,0.85L-0.82,0.85Z","M0,-1L1,0L0,1L-1,0Z","M0,-0.95L0.82,0.85L-0.82,0.85Z"]}},
    "fill": {"field": "cat", "type": "nominal", "legend": null, "scale": {"domain": ["Abisko","Jämtland","Värmland","Västerbotten","Abisko (cyclopoids)","Jämtland (cyclopoids)","Värmland (cyclopoids)","Västerbotten (cyclopoids)","Värmland (excluded)","Västerbotten (excluded)"], "range": ["black","transparent","transparent","black","#b4b4b4","transparent","transparent","#b4b4b4","transparent","#e6324b"]}},
    "stroke": {"field": "cat", "type": "nominal", "legend": null, "scale": {"domain": ["Abisko","Jämtland","Värmland","Västerbotten","Abisko (cyclopoids)","Jämtland (cyclopoids)","Värmland (cyclopoids)","Västerbotten (cyclopoids)","Värmland (excluded)","Västerbotten (excluded)"], "range": ["black","black","black","black","#b4b4b4","#b4b4b4","#b4b4b4","#b4b4b4","#e6324b","#e6324b"]}}
   }},
  {"data": {"values": [
    {"x": -0.8567, "y": 1.501, "t": "= 1.035 + 0.266"}, {"x": -0.8628, "y": 1.345, "t": "² = 0.609,"}, {"x": -0.2501, "y": 1.345, "t": "<0.001"}]},
   "mark": {"type": "text", "align": "left", "baseline": "alphabetic", "font": "Liberation Sans", "fontSize": 24.2, "color": "black"}, "encoding": {"text": {"field": "t"}}},
  {"data": {"values": [
    {"x": -0.9491, "y": 1.501, "t": "y"}, {"x": -0.0611, "y": 1.501, "t": "x"},
    {"x": -0.9491, "y": 1.345, "t": "R"}, {"x": -0.3490, "y": 1.345, "t": "p"}]},
   "mark": {"type": "text", "align": "left", "baseline": "alphabetic", "font": "Liberation Sans", "fontSize": 24.2, "fontStyle": "italic", "color": "black"}, "encoding": {"text": {"field": "t"}}},
  {"data": {"values": [{"x": -0.9491, "y": 1.657, "t": "(f)"}]},
   "mark": {"type": "text", "align": "left", "baseline": "alphabetic", "font": "Liberation Sans", "fontSize": 24.2, "fontWeight": "bold", "color": "black"}, "encoding": {"text": {"field": "t"}}}
 ]
},
{
 "width": 484.8, "height": 363.3,
 "encoding": {
  "x": {"field": "x", "type": "quantitative", "scale": {"domain": [-1.5, 1.25], "nice": false, "zero": false},
        "axis": {"values": [-1.5,-1.25,-1,-0.75,-0.5,-0.25,0,0.25,0.5,0.75,1,1.25], "labelExpr": "abs(datum.value*2-round(datum.value*2))>0.01 ? '' : format(datum.value, '.1f')", "labelFont": "Open Sans", "labelFontSize": 21, "labelPadding": 4, "tickSize": {"condition": {"test": "abs(datum.value*2-round(datum.value*2))>0.01", "value": 5}, "value": 9.5}, "title": "Log₁₀(Molar DIN:TP)", "titleFont": "Open Sans", "titleFontSize": 25, "titlePadding": 10}},
  "y": {"field": "y", "type": "quantitative", "scale": {"domain": [0, 1.4], "nice": false, "zero": false},
        "axis": {"values": [0,0.2,0.4,0.6,0.8,1.0,1.2,1.4], "format": ".1f", "labelFont": "Open Sans", "labelFontSize": 22, "labelPadding": 3, "tickSize": 8, "title": "Log₁₀(ω3:ω6)", "titleFont": "Open Sans", "titleFontSize": 29, "titlePadding": 23}}
 },
 "layer": [
  {"data": {"values": [{"x": -1.5, "y": 0.62}, {"x": 1.25, "y": 0.719}]}, "mark": {"type": "line", "color": "#b4b4b4", "strokeWidth": 3, "strokeDash": [20, 9]}, "encoding": {}},
  {"data": {"values": [{"x": -1.5, "y": 0.4435}, {"x": 1.25, "y": 0.9633}]}, "mark": {"type": "line", "color": "black", "strokeWidth": 2.5}, "encoding": {}},
  {"data": {"values": [
    {"x": -1.41, "y": 0.60, "cat": "Västerbotten (cyclopoids)"},
    {"x": -1.12, "y": 0.51, "cat": "Västerbotten (cyclopoids)"},
    {"x": -0.72, "y": 0.79, "cat": "Västerbotten (cyclopoids)"},
    {"x": 0.24, "y": 0.655, "cat": "Västerbotten (cyclopoids)"},
    {"x": 0.04, "y": 0.96, "cat": "Abisko (cyclopoids)"},
    {"x": 0.19, "y": 0.90, "cat": "Abisko (cyclopoids)"},
    {"x": 0.35, "y": 0.69, "cat": "Abisko (cyclopoids)"},
    {"x": 0.45, "y": 0.91, "cat": "Abisko (cyclopoids)"},
    {"x": 0.64, "y": 0.57, "cat": "Abisko (cyclopoids)"},
    {"x": 0.16, "y": 0.77, "cat": "Värmland (cyclopoids)"},
    {"x": 0.23, "y": 0.44, "cat": "Värmland (cyclopoids)"},
    {"x": 0.37, "y": 0.19, "cat": "Värmland (cyclopoids)"},
    {"x": 0.69, "y": 0.91, "cat": "Värmland (cyclopoids)"},
    {"x": 0.51, "y": 0.57, "cat": "Jämtland (cyclopoids)"},
    {"x": 0.75, "y": 0.69, "cat": "Jämtland (cyclopoids)"},
    {"x": 0.79, "y": 0.55, "cat": "Jämtland (cyclopoids)"},
    {"x": 1.06, "y": 0.83, "cat": "Jämtland (cyclopoids)"},
    {"x": -0.78, "y": 0.565, "cat": "Västerbotten"},
    {"x": -0.78, "y": 0.475, "cat": "Västerbotten"},
    {"x": -0.72, "y": 0.575, "cat": "Västerbotten"},
    {"x": -0.47, "y": 0.69, "cat": "Västerbotten"},
    {"x": 0.01, "y": 0.925, "cat": "Västerbotten"},
    {"x": 0.08, "y": 0.79, "cat": "Västerbotten"},
    {"x": 0.11, "y": 0.72, "cat": "Västerbotten"},
    {"x": 0.18, "y": 0.69, "cat": "Västerbotten"},
    {"x": 0.19, "y": 0.70, "cat": "Västerbotten"},
    {"x": 0.20, "y": 0.957, "cat": "Abisko"},
    {"x": 0.23, "y": 0.687, "cat": "Abisko"},
    {"x": 0.29, "y": 0.967, "cat": "Abisko"},
    {"x": 0.43, "y": 0.674, "cat": "Abisko"},
    {"x": 0.46, "y": 0.93, "cat": "Abisko"},
    {"x": 0.57, "y": 0.78, "cat": "Abisko"},
    {"x": 0.81, "y": 0.655, "cat": "Abisko"},
    {"x": 0.83, "y": 0.72, "cat": "Abisko"},
    {"x": -0.29, "y": 0.59, "cat": "Värmland"},
    {"x": 0.52, "y": 0.70, "cat": "Värmland"},
    {"x": 0.56, "y": 0.78, "cat": "Värmland"},
    {"x": 0.87, "y": 0.715, "cat": "Värmland"},
    {"x": 1.09, "y": 0.915, "cat": "Värmland"},
    {"x": 0.62, "y": 0.985, "cat": "Jämtland"},
    {"x": 0.67, "y": 0.976, "cat": "Jämtland"},
    {"x": 0.73, "y": 0.87, "cat": "Jämtland"},
    {"x": 0.82, "y": 0.90, "cat": "Jämtland"},
    {"x": 1.15, "y": 1.17, "cat": "Jämtland"},
    {"x": 0.25, "y": 0.38, "cat": "Västerbotten (excluded)"},
    {"x": 0.78, "y": 0.54, "cat": "Värmland (excluded)"}
   ]},
   "mark": {"type": "point", "filled": true, "opacity": 1, "size": 484, "strokeWidth": 2},
   "encoding": {
    "shape": {"field": "cat", "type": "nominal", "legend": null, "scale": {"domain": ["Abisko","Jämtland","Värmland","Västerbotten","Abisko (cyclopoids)","Jämtland (cyclopoids)","Värmland (cyclopoids)","Västerbotten (cyclopoids)","Värmland (excluded)","Västerbotten (excluded)"], "range": ["M0.7,0A0.7,0.7,0,1,1,-0.7,0A0.7,0.7,0,1,1,0.7,0Z","M-0.62,-0.62H0.62V0.62H-0.62Z","M0,-1L1,0L0,1L-1,0Z","M0,-0.95L0.82,0.85L-0.82,0.85Z","M0.7,0A0.7,0.7,0,1,1,-0.7,0A0.7,0.7,0,1,1,0.7,0Z","M-0.62,-0.62H0.62V0.62H-0.62Z","M0,-1L1,0L0,1L-1,0Z","M0,-0.95L0.82,0.85L-0.82,0.85Z","M0,-1L1,0L0,1L-1,0Z","M0,-0.95L0.82,0.85L-0.82,0.85Z"]}},
    "fill": {"field": "cat", "type": "nominal", "legend": null, "scale": {"domain": ["Abisko","Jämtland","Värmland","Västerbotten","Abisko (cyclopoids)","Jämtland (cyclopoids)","Värmland (cyclopoids)","Västerbotten (cyclopoids)","Värmland (excluded)","Västerbotten (excluded)"], "range": ["black","transparent","transparent","black","#b4b4b4","transparent","transparent","#b4b4b4","transparent","#e6324b"]}},
    "stroke": {"field": "cat", "type": "nominal", "legend": null, "scale": {"domain": ["Abisko","Jämtland","Värmland","Västerbotten","Abisko (cyclopoids)","Jämtland (cyclopoids)","Värmland (cyclopoids)","Västerbotten (cyclopoids)","Värmland (excluded)","Västerbotten (excluded)"], "range": ["black","black","black","black","#b4b4b4","#b4b4b4","#b4b4b4","#b4b4b4","#e6324b","#e6324b"]}}
   }},
  {"data": {"values": [
    {"x": -1.4121, "y": 1.085, "t": "Cyclopoids:"}, {"x": -1.2998, "y": 0.970, "t": "= 0.674 + 0.036"},
    {"x": -1.3071, "y": 0.861, "t": "² = 0.015,"}, {"x": -0.5624, "y": 0.861, "t": "= 0.626"},
    {"x": -1.3656, "y": 0.347, "t": "Calanoids:"}, {"x": -1.2533, "y": 0.225, "t": "= 0.727 + 0.189"},
    {"x": -1.2606, "y": 0.119, "t": "² = 0.406,"}, {"x": -0.5159, "y": 0.119, "t": "<0.001"}]},
   "mark": {"type": "text", "align": "left", "baseline": "alphabetic", "font": "Liberation Sans", "fontSize": 24.2, "color": "black"}, "encoding": {"text": {"field": "t"}}},
  {"data": {"values": [
    {"x": -1.4121, "y": 0.970, "t": "y"}, {"x": -0.3327, "y": 0.970, "t": "x"},
    {"x": -1.4121, "y": 0.861, "t": "R"}, {"x": -0.6826, "y": 0.861, "t": "p"},
    {"x": -1.3656, "y": 0.225, "t": "y"}, {"x": -0.2862, "y": 0.225, "t": "x"},
    {"x": -1.3656, "y": 0.119, "t": "R"}, {"x": -0.6361, "y": 0.119, "t": "p"}]},
   "mark": {"type": "text", "align": "left", "baseline": "alphabetic", "font": "Liberation Sans", "fontSize": 24.2, "fontStyle": "italic", "color": "black"}, "encoding": {"text": {"field": "t"}}},
  {"data": {"values": [{"x": -1.4393, "y": 1.291, "t": "(g)"}]},
   "mark": {"type": "text", "align": "left", "baseline": "alphabetic", "font": "Liberation Sans", "fontSize": 24.2, "fontWeight": "bold", "color": "black"}, "encoding": {"text": {"field": "t"}}}
 ]
},
{
 "width": 474, "height": 363.3,
 "view": {"stroke": null},
 "encoding": {
  "x": {"field": "x", "type": "quantitative", "scale": {"domain": [-1, 1.2119], "nice": false, "zero": false},
        "axis": {"values": [-1,-0.75,-0.5,-0.25,0,0.25,0.5,0.75,1], "labelExpr": "abs(datum.value*2-round(datum.value*2))>0.01 ? '' : format(datum.value, '.1f')", "labelFont": "Open Sans", "labelFontSize": 21, "labelPadding": 4, "tickSize": {"condition": {"test": "abs(datum.value*2-round(datum.value*2))>0.01", "value": 5}, "value": 9.5}, "title": "Log₁₀(Molar DIN:TP)", "titleFont": "Open Sans", "titleFontSize": 25, "titlePadding": 10}},
  "y": {"field": "y", "type": "quantitative", "scale": {"domain": [0, 1.4], "nice": false, "zero": false},
        "axis": {"values": [0,0.2,0.4,0.6,0.8,1.0,1.2,1.4], "labels": false, "tickSize": 8, "title": null}}
 },
 "layer": [
  {"data": {"values": [{"x": -1, "y": 1.4}, {"x": 1.2119, "y": 1.4}]}, "mark": {"type": "line", "color": "black", "strokeWidth": 1.5}, "encoding": {}},
  {"data": {"values": [{"x": -1, "y": 0.544}, {"x": 1.2119, "y": 0.9267}]}, "mark": {"type": "line", "color": "black", "strokeWidth": 2.5}, "encoding": {}},
  {"data": {"values": [
    {"x": -0.78, "y": 0.54, "cat": "Västerbotten"},
    {"x": -0.78, "y": 0.475, "cat": "Västerbotten"},
    {"x": -0.73, "y": 0.54, "cat": "Västerbotten"},
    {"x": -0.55, "y": 0.527, "cat": "Västerbotten"},
    {"x": -0.47, "y": 0.69, "cat": "Västerbotten"},
    {"x": -0.32, "y": 0.85, "cat": "Västerbotten"},
    {"x": -0.31, "y": 0.69, "cat": "Västerbotten"},
    {"x": 0.11, "y": 0.72, "cat": "Västerbotten"},
    {"x": 0.19, "y": 0.69, "cat": "Västerbotten"},
    {"x": 0.06, "y": 0.745, "cat": "Abisko"},
    {"x": 0.20, "y": 0.935, "cat": "Abisko"},
    {"x": 0.29, "y": 0.967, "cat": "Abisko"},
    {"x": 0.34, "y": 0.69, "cat": "Abisko"},
    {"x": 0.45, "y": 0.92, "cat": "Abisko"},
    {"x": 0.46, "y": 0.925, "cat": "Abisko"},
    {"x": 0.58, "y": 0.764, "cat": "Abisko"},
    {"x": 0.69, "y": 0.597, "cat": "Abisko"},
    {"x": 0.83, "y": 0.706, "cat": "Abisko"},
    {"x": -0.29, "y": 0.59, "cat": "Värmland"},
    {"x": 0.16, "y": 0.76, "cat": "Värmland"},
    {"x": 0.51, "y": 0.71, "cat": "Värmland"},
    {"x": 0.56, "y": 0.786, "cat": "Värmland"},
    {"x": 0.70, "y": 0.905, "cat": "Värmland"},
    {"x": 0.86, "y": 0.715, "cat": "Värmland"},
    {"x": 1.09, "y": 0.916, "cat": "Värmland"},
    {"x": 0.67, "y": 0.972, "cat": "Jämtland"},
    {"x": 0.67, "y": 0.88, "cat": "Jämtland"},
    {"x": 0.66, "y": 0.77, "cat": "Jämtland"},
    {"x": 0.81, "y": 0.787, "cat": "Jämtland"},
    {"x": 0.79, "y": 0.72, "cat": "Jämtland"},
    {"x": 1.15, "y": 1.117, "cat": "Jämtland"},
    {"x": 0.38, "y": 0.186, "cat": "Värmland (excluded)"},
    {"x": 0.78, "y": 0.54, "cat": "Värmland (excluded)"}
   ]},
   "mark": {"type": "point", "filled": true, "opacity": 1, "size": 484, "strokeWidth": 2},
   "encoding": {
    "shape": {"field": "cat", "type": "nominal", "legend": null, "scale": {"domain": ["Abisko","Jämtland","Värmland","Västerbotten","Abisko (cyclopoids)","Jämtland (cyclopoids)","Värmland (cyclopoids)","Västerbotten (cyclopoids)","Värmland (excluded)","Västerbotten (excluded)"], "range": ["M0.7,0A0.7,0.7,0,1,1,-0.7,0A0.7,0.7,0,1,1,0.7,0Z","M-0.62,-0.62H0.62V0.62H-0.62Z","M0,-1L1,0L0,1L-1,0Z","M0,-0.95L0.82,0.85L-0.82,0.85Z","M0.7,0A0.7,0.7,0,1,1,-0.7,0A0.7,0.7,0,1,1,0.7,0Z","M-0.62,-0.62H0.62V0.62H-0.62Z","M0,-1L1,0L0,1L-1,0Z","M0,-0.95L0.82,0.85L-0.82,0.85Z","M0,-1L1,0L0,1L-1,0Z","M0,-0.95L0.82,0.85L-0.82,0.85Z"]}},
    "fill": {"field": "cat", "type": "nominal", "legend": null, "scale": {"domain": ["Abisko","Jämtland","Värmland","Västerbotten","Abisko (cyclopoids)","Jämtland (cyclopoids)","Värmland (cyclopoids)","Västerbotten (cyclopoids)","Värmland (excluded)","Västerbotten (excluded)"], "range": ["black","transparent","transparent","black","#b4b4b4","transparent","transparent","#b4b4b4","transparent","#e6324b"]}},
    "stroke": {"field": "cat", "type": "nominal", "legend": null, "scale": {"domain": ["Abisko","Jämtland","Värmland","Västerbotten","Abisko (cyclopoids)","Jämtland (cyclopoids)","Värmland (cyclopoids)","Västerbotten (cyclopoids)","Värmland (excluded)","Västerbotten (excluded)"], "range": ["black","black","black","black","#b4b4b4","#b4b4b4","#b4b4b4","#b4b4b4","#e6324b","#e6324b"]}}
   }},
  {"data": {"values": [
    {"x": -0.8413, "y": 1.1842, "t": "= 0.717 + 0.173"}, {"x": -0.8427, "y": 1.0744, "t": "² = 0.413,"}, {"x": -0.2301, "y": 1.0744, "t": "<0.001"}]},
   "mark": {"type": "text", "align": "left", "baseline": "alphabetic", "font": "Liberation Sans", "fontSize": 24.2, "color": "black"}, "encoding": {"text": {"field": "t"}}},
  {"data": {"values": [
    {"x": -0.9337, "y": 1.1842, "t": "y"}, {"x": -0.0457, "y": 1.1842, "t": "x"},
    {"x": -0.9291, "y": 1.0744, "t": "R"}, {"x": -0.3290, "y": 1.0744, "t": "p"}]},
   "mark": {"type": "text", "align": "left", "baseline": "alphabetic", "font": "Liberation Sans", "fontSize": 24.2, "fontStyle": "italic", "color": "black"}, "encoding": {"text": {"field": "t"}}},
  {"data": {"values": [{"x": -0.9491, "y": 1.291, "t": "(h)"}]},
   "mark": {"type": "text", "align": "left", "baseline": "alphabetic", "font": "Liberation Sans", "fontSize": 24.2, "fontWeight": "bold", "color": "black"}, "encoding": {"text": {"field": "t"}}}
 ]
}
]
}
